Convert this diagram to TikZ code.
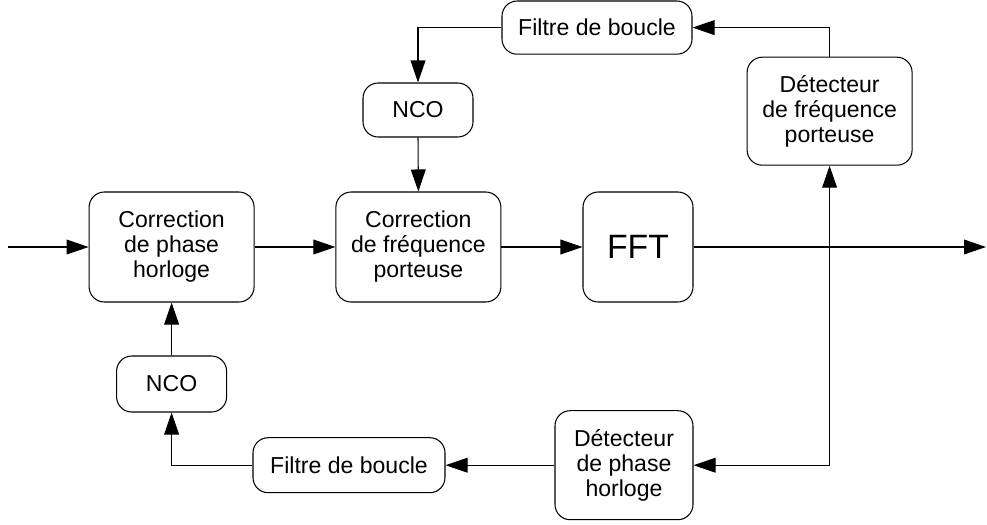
\documentclass[tikz,border=0pt]{standalone}
\usepackage{fontspec}
\setmainfont{Liberation Sans}
\usetikzlibrary{arrows.meta}

\begin{document}
\begin{tikzpicture}
% Block style
\tikzset{
    bloc/.style={draw, line width=0.75pt, rounded corners=0.38cm, align=center,
        inner sep=0pt, font=\fontsize{16.4}{17.8}\selectfont},
    fleche/.style={line width=0.75pt, -{Triangle[length=0.55cm,width=0.37cm]}}
}
\useasboundingbox (0,0) rectangle (24.675,-13.1);
% Blocks
\node[bloc, minimum width=4.75cm, minimum height=1.33cm] (filtreA) at (14.925,-0.69){Filtre de boucle};
\node[bloc, minimum width=2.75cm, minimum height=1.35cm] (ncoA) at (10.45,-2.75){NCO};
\node[bloc, minimum width=4.125cm, minimum height=2.7cm] (detF) at (20.74,-2.78){D\'etecteur\\de fr\'equence\\porteuse};
\node[bloc, minimum width=4.125cm, minimum height=2.75cm] (corrP) at (4.29,-6.175){Correction\\de phase\\horloge};
\node[bloc, minimum width=4.125cm, minimum height=2.75cm] (corrF) at (10.46,-6.175){Correction\\de fr\'equence\\porteuse};
\node[bloc, minimum width=2.75cm, minimum height=2.75cm, font=\fontsize{24}{28}\selectfont] (fft) at (15.95,-6.175){FFT};
\node[bloc, minimum width=2.75cm, minimum height=1.4cm] (ncoB) at (4.29,-9.6){NCO};
\node[bloc, minimum width=4.8cm, minimum height=1.375cm] (filtreB) at (8.725,-11.63){Filtre de boucle};
\node[bloc, minimum width=3.45cm, minimum height=2.725cm] (detP) at (15.6,-11.63){D\'etecteur\\de phase\\horloge};
\coordinate (in) at (0.2,-6.175);
\coordinate (out) at (24.65,-6.175);
\coordinate (tap) at (detF.south |- detP.east);
% Signal path
\draw[fleche] (in) -- (corrP.west);
\draw[fleche] (corrP.east) -- (corrF.west);
\draw[fleche] (corrF.east) -- (fft.west);
\draw[fleche] (fft.east) -- (out);
% Frequency loop
\draw[fleche] (tap) -- (detF.south);
\draw[fleche] (detF.north) |- (filtreA.east);
\draw[fleche] (filtreA.west) -| (ncoA.north);
\draw[fleche] (ncoA.south) -- (corrF.north);
% Clock loop
\draw[fleche] (tap) -- (detP.east);
\draw[fleche] (detP.west) -- (filtreB.east);
\draw[fleche] (filtreB.west) -| (ncoB.south);
\draw[fleche] (ncoB.north) -- (corrP.south);
\end{tikzpicture}
\end{document}
